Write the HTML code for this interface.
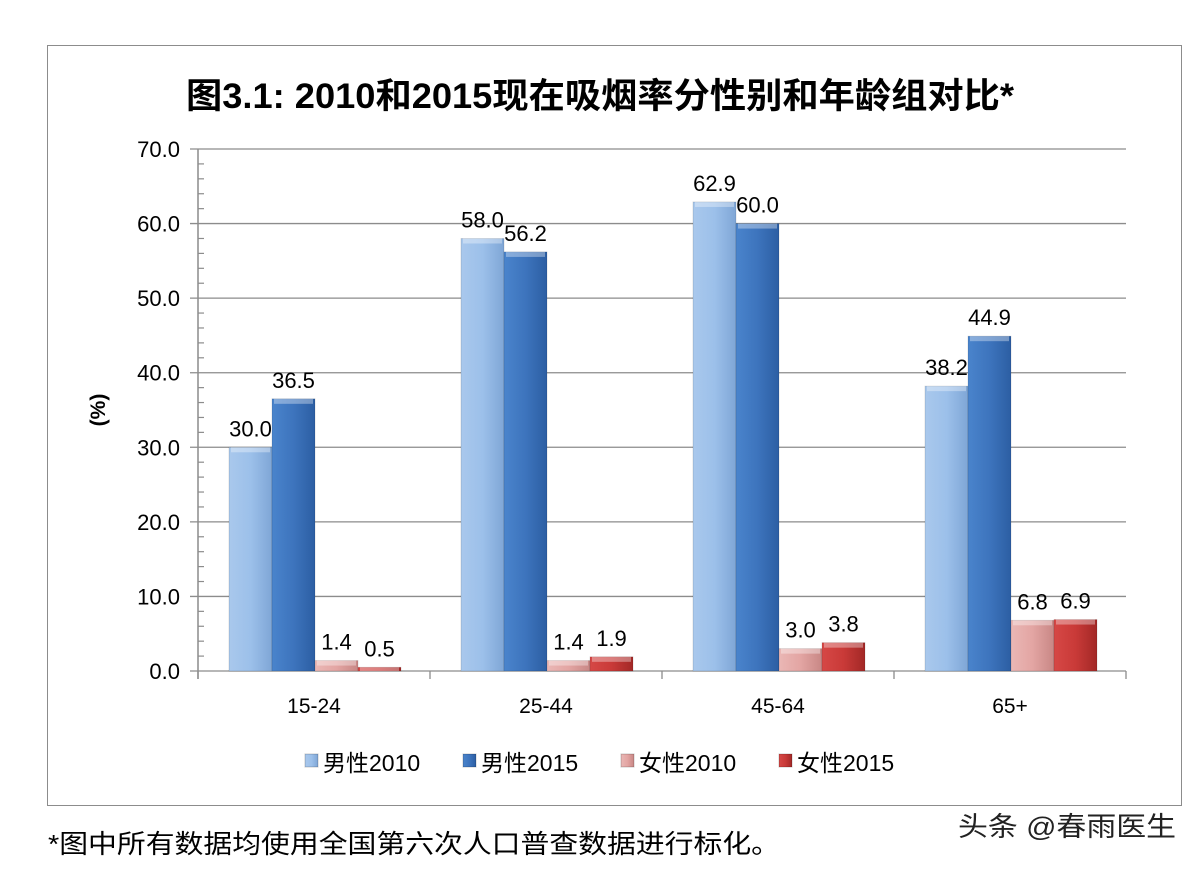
<!DOCTYPE html>
<html><head><meta charset="utf-8">
<style>
html,body{margin:0;padding:0;background:#fff;}
body{width:1200px;height:866px;overflow:hidden;position:relative;font-family:"Liberation Sans","Noto Sans CJK SC",sans-serif;}
svg text{font-family:"Liberation Sans","Noto Sans CJK SC",sans-serif;}
</style></head>
<body>
<svg id="chart" width="1200" height="866" xmlns="http://www.w3.org/2000/svg">
<defs>
<linearGradient id="g0" x1="0" x2="1"><stop offset="0" stop-color="#a9c8ec"/><stop offset="0.5" stop-color="#9cc0ea"/><stop offset="1" stop-color="#7fa6d6"/></linearGradient>
<linearGradient id="g1" x1="0" x2="1"><stop offset="0" stop-color="#4a84cc"/><stop offset="0.5" stop-color="#3d74bd"/><stop offset="1" stop-color="#2c5ea3"/></linearGradient>
<linearGradient id="g2" x1="0" x2="1"><stop offset="0" stop-color="#eab7b5"/><stop offset="0.5" stop-color="#e3a5a3"/><stop offset="1" stop-color="#c88785"/></linearGradient>
<linearGradient id="g3" x1="0" x2="1"><stop offset="0" stop-color="#d64846"/><stop offset="0.5" stop-color="#c93a38"/><stop offset="1" stop-color="#a22826"/></linearGradient>
</defs>
<rect x="47.5" y="45.5" width="1134" height="760" fill="#fff" stroke="#8c8c8c" stroke-width="1"/>
<text x="600" y="108" text-anchor="middle" font-size="35" font-weight="bold" fill="#000" textLength="828" lengthAdjust="spacingAndGlyphs">图3.1: 2010和2015现在吸烟率分性别和年龄组对比*</text>
<text transform="translate(105,410) rotate(-90)" text-anchor="middle" font-size="21" font-weight="bold">(%)</text>
<g id="grid"></g>
<g id="bars"></g>
<g id="legend"></g>
<text x="48" y="853" font-size="26" fill="#000" textLength="732" lengthAdjust="spacingAndGlyphs">*图中所有数据均使用全国第六次人口普查数据进行标化。</text>
<text x="1176" y="836" text-anchor="end" font-size="27" fill="#222" textLength="218" lengthAdjust="spacingAndGlyphs">头条 @春雨医生</text>
</svg>
<script>
const categories=["15-24","25-44","45-64","65+"];
const seriesNames=["男性2010","男性2015","女性2010","女性2015"];
const male2010=[30.0,58.0,62.9,38.2];
const male2015=[36.5,56.2,60.0,44.9];
const female2010=[1.4,1.4,3.0,6.8];
const female2015=[0.5,1.9,3.8,6.9];
const yTicks=[0,10,20,30,40,50,60,70];
const NS="http://www.w3.org/2000/svg";
const X0=198,X1=1126,Y0=671,Y70=149;
function y(v){return Y0-(v/70)*(Y0-Y70);}
const cw=(X1-X0)/categories.length;
function xCat(i){return X0+cw*i;}
function mk(tag,attrs,parent){const e=document.createElementNS(NS,tag);for(const k in attrs)e.setAttribute(k,attrs[k]);parent.appendChild(e);return e;}
const grid=document.getElementById('grid'),bars=document.getElementById('bars'),legend=document.getElementById('legend');
yTicks.forEach(t=>{
  const l=mk('line',{x1:X0-8,x2:X1,y1:y(t),y2:y(t),stroke:'#8c8c8c','stroke-width':1.3},grid);
  
  
  const tx=mk('text',{x:X0-18,y:y(t)+8,'text-anchor':'end','font-size':22},grid);
  tx.textContent=t.toFixed(1);
  
  
});
for(let v=0;v<70;v+=2){if(v%10===0)continue;
  const m=mk('line',{x1:X0,x2:X0+6,y1:y(v),y2:y(v),stroke:'#8c8c8c','stroke-width':1.2},grid);
  
  }
const ax=mk('line',{x1:X0,x2:X0,y1:Y70,y2:Y0+8,stroke:'#8c8c8c','stroke-width':1.5},grid);


for(let i=0;i<=categories.length;i++){
  const t=mk('line',{x1:xCat(i),x2:xCat(i),y1:Y0,y2:Y0+8,stroke:'#8c8c8c','stroke-width':1.3},grid);
  
  
}
const all=[male2010,male2015,female2010,female2015];
const bw=43,off=31;
categories.forEach((c,i)=>{
  const lab=mk('text',{x:xCat(i)+cw/2,y:713,'text-anchor':'middle','font-size':21},grid);
  lab.textContent=c;
  
  
  all.forEach((s,j)=>{
    const bx=xCat(i)+off+j*bw, top=y(s[i]);
    const r=mk('rect',{x:bx,y:top,width:bw,height:Math.max(Y0-top,1),fill:'url(#g'+j+')',stroke:'rgba(0,0,0,0.15)','stroke-width':0.8},bars);
    
    
    mk('rect',{x:bx+2,y:top,width:bw-4,height:Math.min(5,Y0-top),fill:'rgba(255,255,255,0.35)'},bars);
    const vl=mk('text',{x:bx+bw/2,y:top-11,'text-anchor':'middle','font-size':22},bars);
    vl.textContent=s[i].toFixed(1);
    
    
  });
});
const lx=[305,463,621,779];
seriesNames.forEach((n,j)=>{
  const g=mk('g',{},legend);
  
  
  mk('rect',{x:lx[j],y:754,width:13,height:13,fill:'url(#g'+j+')',stroke:'rgba(0,0,0,0.2)'},g);
  const t=mk('text',{x:lx[j]+18,y:771,'font-size':23},g);
  t.textContent=n;
});
</script>
</body></html>
